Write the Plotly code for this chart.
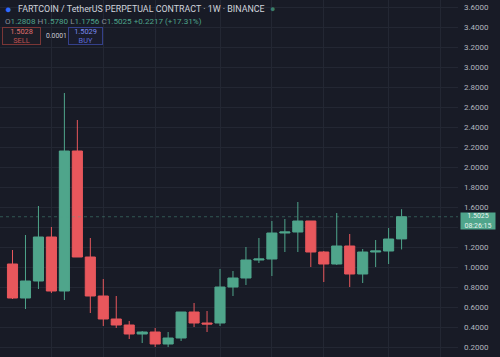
import plotly.graph_objects as go
import pandas as pd

# ---- data (weekly candles) ----
start_week = "2024-12-16"
opens  = [1.03, 0.69, 0.86, 1.30, 0.76, 2.16, 1.10, 0.71, 0.48, 0.42, 0.33, 0.35, 0.23, 0.29, 0.55, 0.44,
          0.44, 0.80, 0.89, 1.07, 1.08, 1.34, 1.35, 1.46, 1.15, 1.03, 1.21, 0.93, 1.15, 1.16, 1.2808]
highs  = [1.17, 1.32, 1.61, 1.40, 2.74, 2.47, 1.29, 0.88, 0.71, 0.46, 0.36, 0.39, 0.35, 0.55, 0.64, 0.56,
          0.98, 0.96, 1.20, 1.29, 1.46, 1.48, 1.65, 1.46, 1.16, 1.54, 1.33, 1.18, 1.27, 1.39, 1.5780]
lows   = [0.68, 0.58, 0.78, 0.74, 0.67, 1.10, 0.54, 0.41, 0.39, 0.28, 0.24, 0.20, 0.20, 0.26, 0.40, 0.35,
          0.41, 0.71, 0.82, 1.04, 0.91, 1.15, 1.15, 1.00, 0.85, 1.02, 0.80, 0.84, 1.00, 1.03, 1.1756]
closes = [0.69, 0.86, 1.30, 0.76, 2.16, 1.10, 0.71, 0.48, 0.42, 0.33, 0.35, 0.23, 0.29, 0.55, 0.44, 0.43,
          0.80, 0.89, 1.07, 1.08, 1.34, 1.35, 1.46, 1.15, 1.03, 1.21, 0.93, 1.15, 1.16, 1.28, 1.5025]
y_ticks = [0.2, 0.4, 0.6, 0.8, 1.0, 1.2, 1.4, 1.6, 1.8, 2.0, 2.2, 2.4, 2.6, 2.8, 3.0, 3.2, 3.4, 3.6]
# the 1.4000 label is hidden behind the last-price badge in the reference
y_tick_labels = ["" if abs(t - 1.4) < 1e-9 else f"{t:.4f}" for t in y_ticks]
month_lines = ["2025-01-06", "2025-02-03", "2025-03-03", "2025-04-07", "2025-05-05",
               "2025-06-02", "2025-07-07", "2025-08-04"]
last_price = 1.5025
countdown = "08:26:15"

dates = pd.date_range(start_week, periods=len(opens), freq="7D")

UP = "#4fa58b"
DOWN = "#e8575c"
BG = "#181b26"
GRID = "#232733"

fig = go.Figure()
fig.add_trace(go.Candlestick(
    x=dates, open=opens, high=highs, low=lows, close=closes,
    increasing=dict(line=dict(color=UP, width=1), fillcolor=UP),
    decreasing=dict(line=dict(color=DOWN, width=1), fillcolor=DOWN),
    whiskerwidth=0, showlegend=False, hoverinfo="skip",
))

week = pd.Timedelta(days=7)
x0 = pd.Timestamp(start_week) - 0.964 * week
x1 = pd.Timestamp(start_week) + 34.35 * week

fig.add_shape(type="line", xref="paper", x0=0, x1=1.0, yref="y", y0=last_price, y1=last_price,
              line=dict(color="rgba(79,165,139,0.45)", width=1, dash="dot"))

annos = []
FONT = "Roboto"
annos.append(dict(xref="paper", yref="paper", x=0, y=1, xanchor="left", yanchor="middle",
                  xshift=3, yshift=-9, showarrow=False, text="●",
                  font=dict(family=FONT, size=11, color="#2f6bff")))
annos.append(dict(xref="paper", yref="paper", x=0, y=1, xanchor="left", yanchor="middle",
                  xshift=16, yshift=-9, showarrow=False,
                  text="FARTCOIN / TetherUS PERPETUAL CONTRACT · 1W · BINANCE",
                  font=dict(family=FONT, size=8.9, color="#d1d4dc")))
annos.append(dict(xref="paper", yref="paper", x=0, y=1, xanchor="left", yanchor="middle",
                  xshift=268, yshift=-8.5, showarrow=False, text="●",
                  font=dict(family=FONT, size=9, color="#3a7d6c")))
g = "#8b8f99"
v = "#4fa58b"
line2 = (f"<span style='color:{g}'>O</span><span style='color:{v}'>1.2808</span> "
         f"<span style='color:{g}'>H</span><span style='color:{v}'>1.5780</span> "
         f"<span style='color:{g}'>L</span><span style='color:{v}'>1.1756</span> "
         f"<span style='color:{g}'>C</span><span style='color:{v}'>1.5025</span> "
         f"<span style='color:{v}'>+0.2217 (+17.31%)</span>")
annos.append(dict(xref="paper", yref="paper", x=0, y=1, xanchor="left", yanchor="middle",
                  xshift=3, yshift=-20.5, showarrow=False, text=line2,
                  font=dict(family=FONT, size=8.1, color=v)))
annos.append(dict(xref="paper", yref="paper", x=0, y=1, xanchor="left", yanchor="top",
                  xshift=2, yshift=-27, showarrow=False,
                  text="<span style='color:#e0706f'>1.5028</span><br><span style='color:#c0504f'>SELL</span>",
                  font=dict(family=FONT, size=7.4), width=37, height=16, align="center",
                  bordercolor="#7a3636", borderwidth=1, borderpad=0, bgcolor="#1c1d27"))
annos.append(dict(xref="paper", yref="paper", x=0, y=1, xanchor="left", yanchor="middle",
                  xshift=44, yshift=-35.5, showarrow=False, text="0.0001",
                  font=dict(family=FONT, size=6.8, color="#c8cad2")))
annos.append(dict(xref="paper", yref="paper", x=0, y=1, xanchor="left", yanchor="top",
                  xshift=68, yshift=-27, showarrow=False,
                  text="<span style='color:#7c8cf0'>1.5029</span><br><span style='color:#5a6ad8'>BUY</span>",
                  font=dict(family=FONT, size=7.4), width=33, height=16, align="center",
                  bordercolor="#34408a", borderwidth=1, borderpad=0, bgcolor="#1a1c2c"))
annos.append(dict(xref="paper", yref="y", x=1, y=last_price, xanchor="left", yanchor="middle",
                  xshift=2, yshift=-4, showarrow=False,
                  text=f"{last_price:.4f}<br>{countdown}",
                  font=dict(family=FONT, size=7, color="#e8f3ef"), align="center",
                  bgcolor=UP, borderpad=0, width=34, height=16))

fig.update_layout(
    width=500, height=357,
    margin=dict(l=0, r=42, t=0, b=0, autoexpand=False),
    paper_bgcolor=BG, plot_bgcolor=BG,
    boxgap=0.22, boxgroupgap=0,
    annotations=annos,
    xaxis=dict(type="date", range=[x0, x1], rangeslider=dict(visible=False),
               tickvals=pd.to_datetime(month_lines), showticklabels=False, automargin=False,
               showgrid=True, gridcolor=GRID, gridwidth=1, zeroline=False, showline=False),
    yaxis=dict(side="right", range=[0.10, 3.67], tickvals=y_ticks, ticktext=y_tick_labels,
               showgrid=True, gridcolor=GRID, gridwidth=1, zeroline=False, showline=False,
               ticks="", ticklabelstandoff=5, automargin=False,
               tickfont=dict(family=FONT, size=8, color="#b2b5be")),
    font=dict(family=FONT),
)

fig.write_html("out.html", config={"displayModeBar": False},
               post_script="document.body.style.margin='0';document.body.style.overflow='hidden';"
                           "document.body.style.background='" + BG + "';")
